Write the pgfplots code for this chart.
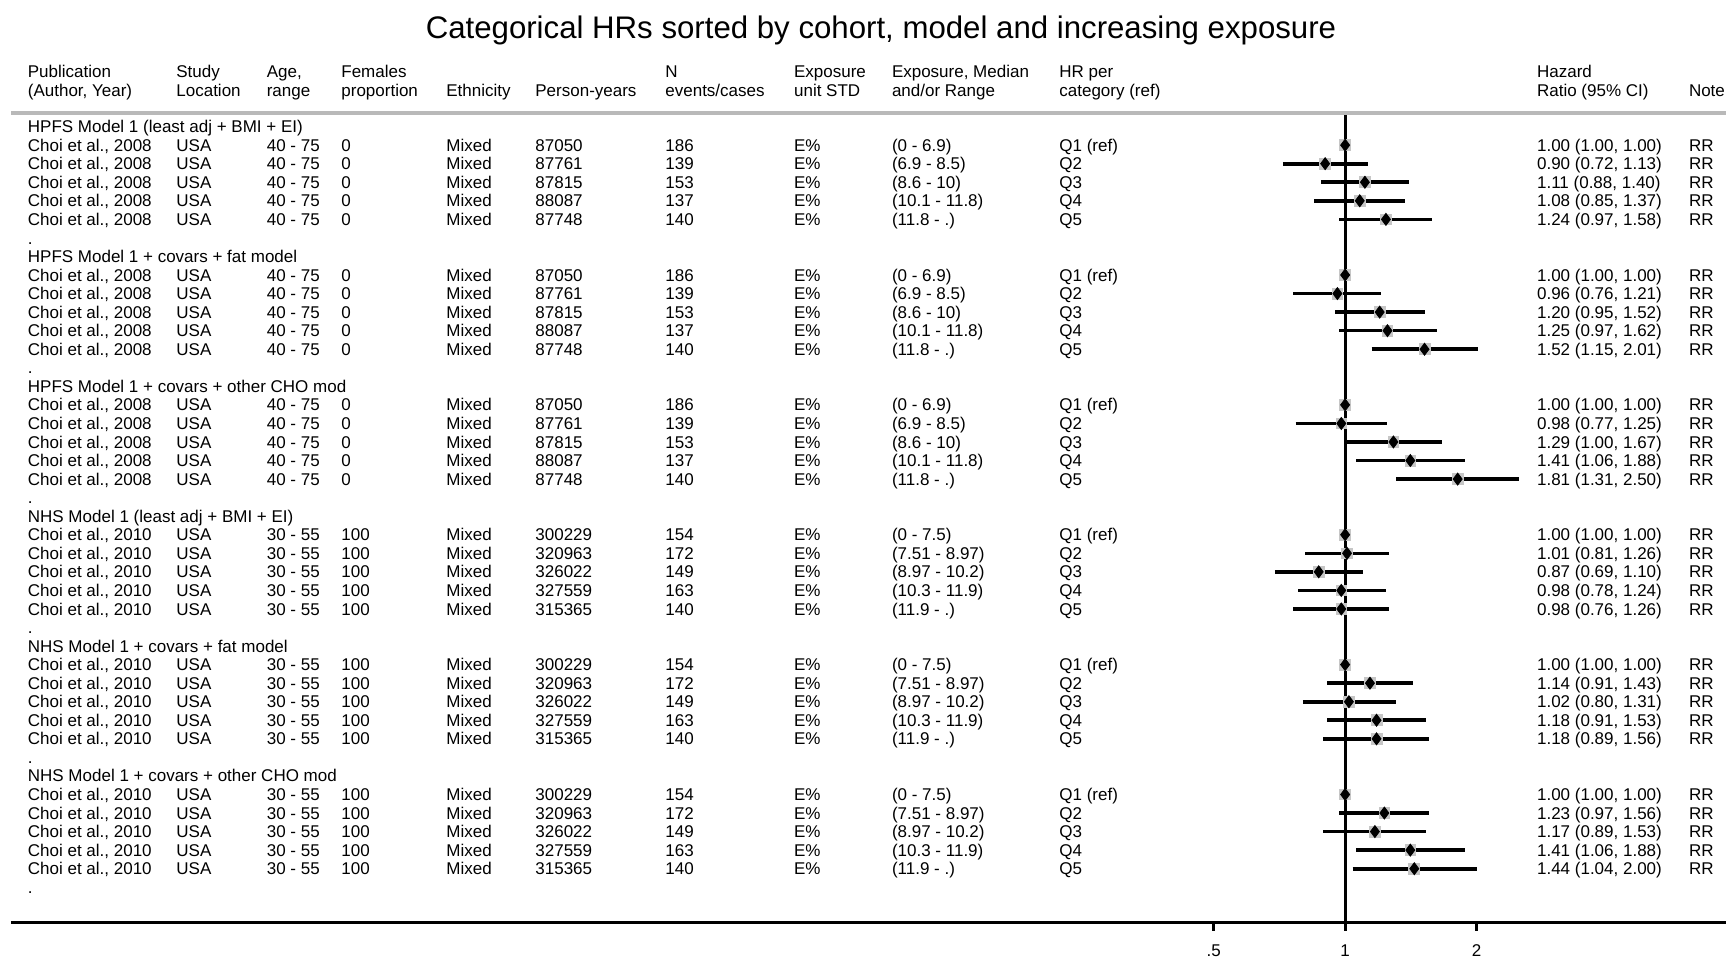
\documentclass[border=0pt]{standalone}
\usepackage{pgfplots}
\pgfplotsset{compat=1.18}
\usepackage{fontspec}
\setmainfont{Liberation Sans}
\newcommand\fs{\fontsize{8.5}{10}\selectfont}
\tikzset{T/.style={anchor=base west, inner sep=0pt, font=\fs, text=black}}
% r author age fem py n range q hr
\newcommand\rowtxt[9]{%
  \pgfmathsetmacro\yb{126.6+18.55*(#1)+6.1}%
  \node[T] at (27.5,\yb) {#2};
  \node[T] at (176,\yb) {USA};
  \node[T] at (266.4,\yb) {#3};
  \node[T] at (341,\yb) {#4};
  \node[T] at (446,\yb) {Mixed};
  \node[T] at (535,\yb) {#5};
  \node[T] at (665,\yb) {#6};
  \node[T] at (793.7,\yb) {E\%};
  \node[T] at (891.6,\yb) {#7};
  \node[T] at (1059,\yb) {#8};
  \node[T] at (1536.7,\yb) {#9};
  \node[T] at (1688.6,\yb) {RR};
}
\newcommand\headtxt[2]{%
  \pgfmathsetmacro\yb{126.6+18.55*(#1)+6.1}%
  \node[T] at (27.5,\yb) {#2};
}
\begin{document}
\begin{tikzpicture}
\path[use as bounding box] (0,0) rectangle (863pt,-479pt);
\begin{axis}[
  at={(5.5pt,-461.25pt)}, anchor=south west,
  scale only axis, width=857.5pt, height=404.75pt,
  xmode=log, log basis x=2,
  xmin=0.000881, xmax=7.45,
  ymin=-42.9, ymax=0.733,
  axis x line=bottom, axis y line=none,
  axis line style={line width=1.5pt, -, black},
  xtick={0.5,1,2}, xticklabels={\textrm{.5},\textrm{1},\textrm{2}},
  minor xtick={},
  tick style={line width=1.5pt, black},
  major tick length=4pt, tick align=outside,
  xticklabel style={font=\fs, inner sep=1pt, yshift=-6pt},
  clip=false,
]
\addplot[line width=1.5pt, black] coordinates {(1,0.733) (1,-42.9)};
\foreach \r/\h/\l/\u in {
  1/1.00/1.00/1.00, 2/0.90/0.72/1.13, 3/1.11/0.88/1.40, 4/1.08/0.85/1.37, 5/1.24/0.97/1.58,
  8/1.00/1.00/1.00, 9/0.96/0.76/1.21, 10/1.20/0.95/1.52, 11/1.25/0.97/1.62, 12/1.52/1.15/2.01,
  15/1.00/1.00/1.00, 16/0.98/0.77/1.25, 17/1.29/1.00/1.67, 18/1.41/1.06/1.88, 19/1.81/1.31/2.50,
  22/1.00/1.00/1.00, 23/1.01/0.81/1.26, 24/0.87/0.69/1.10, 25/0.98/0.78/1.24, 26/0.98/0.76/1.26,
  29/1.00/1.00/1.00, 30/1.14/0.91/1.43, 31/1.02/0.80/1.31, 32/1.18/0.91/1.53, 33/1.18/0.89/1.56,
  36/1.00/1.00/1.00, 37/1.23/0.97/1.56, 38/1.17/0.89/1.53, 39/1.41/1.06/1.88, 40/1.44/1.04/2.00}{
  \edef\temp{\noexpand\addplot[line width=1.8pt, black] coordinates {(\l,-\r) (\u,-\r)};
    \noexpand\addplot[only marks, mark=square*, mark size=2.7pt, gray!45] coordinates {(\h,-\r)};
    \noexpand\addplot[only marks, mark=diamond*, mark size=3pt, black] coordinates {(\h,-\r)};}
  \temp
}
\end{axis}
\begin{scope}[x=0.5pt, y=-0.5pt]
\node[anchor=base, inner sep=0pt, font=\fontsize{15.6}{18}\selectfont] at (881,38.7) {Categorical HRs sorted by cohort, model and increasing exposure};
\draw[gray!55, line width=2pt] (11,113.4) -- (1726,113.4);
% header
\node[T] at (27.5,77.7) {Publication}; \node[T] at (27.5,96.4) {(Author, Year)};
\node[T] at (176,77.7) {Study}; \node[T] at (176,96.4) {Location};
\node[T] at (266.4,77.7) {Age,}; \node[T] at (266.4,96.4) {range};
\node[T] at (341,77.7) {Females}; \node[T] at (341,96.4) {proportion};
\node[T] at (446,96.4) {Ethnicity};
\node[T] at (535,96.4) {Person-years};
\node[T] at (665,77.7) {N}; \node[T] at (665,96.4) {events/cases};
\node[T] at (793.7,77.7) {Exposure}; \node[T] at (793.7,96.4) {unit STD};
\node[T] at (891.6,77.7) {Exposure, Median}; \node[T] at (891.6,96.4) {and/or Range};
\node[T] at (1059,77.7) {HR per}; \node[T] at (1059,96.4) {category (ref)};
\node[T] at (1536.7,77.7) {Hazard}; \node[T] at (1536.7,96.4) {Ratio (95\% CI)};
\node[T] at (1688.6,96.4) {Note};
% group headings and dots
\headtxt{0}{HPFS Model 1 (least adj + BMI + EI)}
\headtxt{7}{HPFS Model 1 + covars + fat model}
\headtxt{14}{HPFS Model 1 + covars + other CHO mod}
\headtxt{21}{NHS Model 1 (least adj + BMI + EI)}
\headtxt{28}{NHS Model 1 + covars + fat model}
\headtxt{35}{NHS Model 1 + covars + other CHO mod}
\foreach \d in {6,13,20,27,34,41}{\headtxt{\d}{.}}
% HPFS rows
\foreach \g/\a/\b/\c/\d/\e in {
  0/{1.00 (1.00, 1.00)}/{0.90 (0.72, 1.13)}/{1.11 (0.88, 1.40)}/{1.08 (0.85, 1.37)}/{1.24 (0.97, 1.58)},
  7/{1.00 (1.00, 1.00)}/{0.96 (0.76, 1.21)}/{1.20 (0.95, 1.52)}/{1.25 (0.97, 1.62)}/{1.52 (1.15, 2.01)},
  14/{1.00 (1.00, 1.00)}/{0.98 (0.77, 1.25)}/{1.29 (1.00, 1.67)}/{1.41 (1.06, 1.88)}/{1.81 (1.31, 2.50)}}{
  \rowtxt{\g+1}{Choi et al., 2008}{40 - 75}{0}{87050}{186}{(0 - 6.9)}{Q1 (ref)}{\a}
  \rowtxt{\g+2}{Choi et al., 2008}{40 - 75}{0}{87761}{139}{(6.9 - 8.5)}{Q2}{\b}
  \rowtxt{\g+3}{Choi et al., 2008}{40 - 75}{0}{87815}{153}{(8.6 - 10)}{Q3}{\c}
  \rowtxt{\g+4}{Choi et al., 2008}{40 - 75}{0}{88087}{137}{(10.1 - 11.8)}{Q4}{\d}
  \rowtxt{\g+5}{Choi et al., 2008}{40 - 75}{0}{87748}{140}{(11.8 - .)}{Q5}{\e}
}
% NHS rows
\foreach \g/\a/\b/\c/\d/\e in {
  21/{1.00 (1.00, 1.00)}/{1.01 (0.81, 1.26)}/{0.87 (0.69, 1.10)}/{0.98 (0.78, 1.24)}/{0.98 (0.76, 1.26)},
  28/{1.00 (1.00, 1.00)}/{1.14 (0.91, 1.43)}/{1.02 (0.80, 1.31)}/{1.18 (0.91, 1.53)}/{1.18 (0.89, 1.56)},
  35/{1.00 (1.00, 1.00)}/{1.23 (0.97, 1.56)}/{1.17 (0.89, 1.53)}/{1.41 (1.06, 1.88)}/{1.44 (1.04, 2.00)}}{
  \rowtxt{\g+1}{Choi et al., 2010}{30 - 55}{100}{300229}{154}{(0 - 7.5)}{Q1 (ref)}{\a}
  \rowtxt{\g+2}{Choi et al., 2010}{30 - 55}{100}{320963}{172}{(7.51 - 8.97)}{Q2}{\b}
  \rowtxt{\g+3}{Choi et al., 2010}{30 - 55}{100}{326022}{149}{(8.97 - 10.2)}{Q3}{\c}
  \rowtxt{\g+4}{Choi et al., 2010}{30 - 55}{100}{327559}{163}{(10.3 - 11.9)}{Q4}{\d}
  \rowtxt{\g+5}{Choi et al., 2010}{30 - 55}{100}{315365}{140}{(11.9 - .)}{Q5}{\e}
}
\end{scope}
\end{tikzpicture}
\end{document}
